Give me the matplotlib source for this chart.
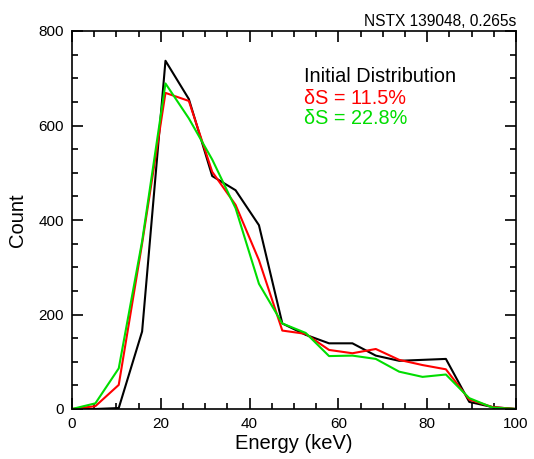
import numpy as np
import matplotlib.pyplot as plt
from matplotlib.ticker import MultipleLocator

plt.rcParams['font.family'] = ['Liberation Sans', 'DejaVu Sans']

# bin centres (keV) and counts
energy = np.linspace(0, 100, 20)
initial = [0, 0, 2, 164, 737, 656, 493, 463, 389, 181, 157, 139, 139, 113, 102, 104, 106, 15, 4, 0]
ds_115 = [0, 6, 51, 350, 669, 652, 502, 432, 315, 166, 159, 125, 118, 127, 104, 93, 84, 20, 4, 0]
ds_228 = [0, 12, 86, 355, 689, 615, 528, 425, 265, 181, 161, 112, 113, 106, 79, 68, 73, 23, 3, 0]

labels = ['Initial Distribution', 'δS = 11.5%', 'δS = 22.8%']
colors = ['black', '#ff0000', '#00dd00']

fig = plt.figure(figsize=(5.34, 4.59), dpi=100)
ax = fig.add_axes([72/534, 50/459, 444/534, 378/459])

for y, c in zip([initial, ds_115, ds_228], colors):
    ax.plot(energy, y, color=c, lw=1.5)

ax.set_xlim(0, 100)
ax.set_ylim(0, 800)
ax.xaxis.set_major_locator(MultipleLocator(20))
ax.xaxis.set_minor_locator(MultipleLocator(5))
ax.yaxis.set_major_locator(MultipleLocator(200))
ax.yaxis.set_minor_locator(MultipleLocator(50))
ax.tick_params(which='both', direction='in', top=True, right=True, width=1.2, labelsize=11, pad=6)
ax.tick_params(which='major', length=8)
ax.tick_params(which='minor', length=4)
for s in ax.spines.values():
    s.set_linewidth(1.2)

ax.set_xlabel('Energy (keV)', fontsize=14.5, labelpad=2)
ax.set_ylabel('Count', fontsize=14.5, labelpad=8)

fig.text(516/534, 1 - 21/459, 'NSTX 139048, 0.265s', ha='right', va='center', fontsize=11.2)
for i, (t, c) in enumerate(zip(labels, colors)):
    fig.text(304/534, 1 - (77 + 21*i)/459, t, color=c, ha='left', va='center', fontsize=14.3)

fig.savefig('out.png', dpi=100)
